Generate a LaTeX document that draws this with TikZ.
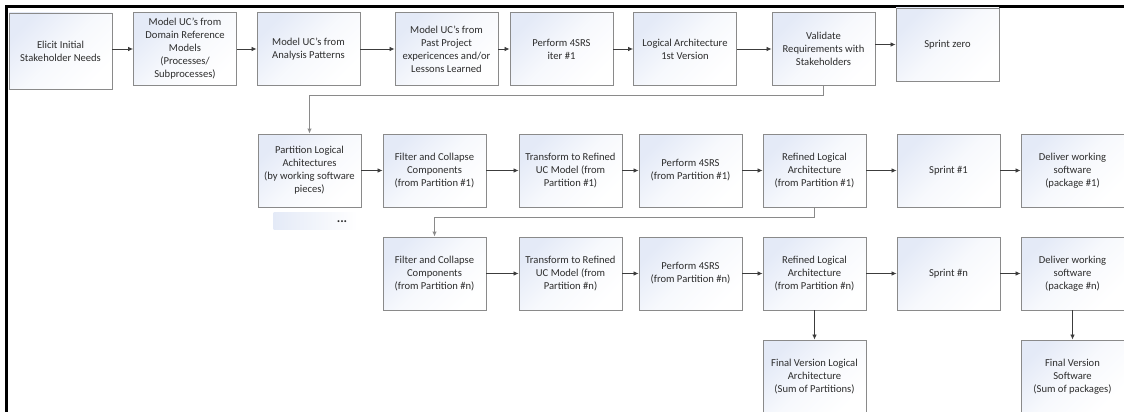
\documentclass[tikz,border=0pt]{standalone}
\usepackage{fontspec}
\setmainfont{Carlito}
\usetikzlibrary{arrows.meta}
\definecolor{boxblue}{RGB}{228,234,247}
\definecolor{boxline}{RGB}{138,138,138}
\definecolor{txt}{RGB}{45,45,45}
\definecolor{wire}{RGB}{60,60,60}
\begin{document}
\begin{tikzpicture}[x=1pt,y=-1pt,
  proc/.style={draw=boxline, line width=0.9pt, top color=boxblue, bottom color=white,
    middle color=boxblue!30, shading angle=45, minimum width=103pt, minimum height=73pt,
    inner sep=0pt, align=center, text=txt, font=\fontsize{10.6}{13}\selectfont},
  flow/.style={draw=wire, line width=0.8pt, -{Latex[length=5pt,width=4.5pt]}},
  link/.style={draw=boxline, line width=1pt, -{Latex[length=5pt,width=4.5pt]}}]
\useasboundingbox (0,0) rectangle (1124,412);
\clip (0,0) rectangle (1124,412);
\fill[white] (0,0) rectangle (1124,412);

% frame
\draw[line width=2.4pt, black] (6.5,420) -- (6.5,6.5) -- (1130,6.5);

% first row: requirements phase
\node[proc, minimum height=76pt] (elicit) at (60.5,51) {Elicit Initial\\Stakeholder Needs};
\node[proc] (domain) at (185,49) {Model UC’s from\\Domain Reference\\Models\\(Processes/\\Subprocesses)};
\node[proc] (analysis) at (308.5,49) {Model UC’s from\\Analysis Patterns};
\node[proc] (past) at (446.5,49) {Model UC’s from\\Past Project\\expericences and/or\\Lessons Learned};
\node[proc] (iter) at (561.5,49) {Perform 4SRS\\iter \#1};
\node[proc] (logic) at (685,49) {Logical Architecture\\1st Version};
\node[proc] (validate) at (823.5,49) {Validate\\Requirements with\\Stakeholders};
\node[proc] (szero) at (947.5,44.5) {Sprint zero};

\draw[flow] (elicit.east |- domain.west) -- (domain.west);
\draw[flow] (domain) -- (analysis);
\draw[flow] (analysis) -- (past);
\draw[flow] (past) -- (iter);
\draw[flow] (iter) -- (logic);
\draw[flow] (logic) -- (validate);
\draw[flow] (validate.east |- szero.west) -- (szero.west);

% second row: partition #1
\node[proc] (part) at (309.5,170.5) {Partition Logical\\Achitectures\\(by working software\\pieces)};
\node[proc] (filt1) at (434.5,170.5) {Filter and Collapse\\Components\\(from Partition \#1)};
\node[proc] (trans1) at (570.5,170.5) {Transform to Refined\\UC Model (from\\Partition \#1)};
\node[proc] (perf1) at (690.5,170.5) {Perform 4SRS\\(from Partition \#1)};
\node[proc] (ref1) at (814.5,170.5) {Refined Logical\\Architecture\\(from Partition \#1)};
\node[proc] (spr1) at (948.5,170.5) {Sprint \#1};
\node[proc] (del1) at (1072.5,170.5) {Deliver working\\software\\(package \#1)};

\draw[link] (validate.south) -- ++(0,10) -| (part.north);
\draw[flow] (part) -- (filt1);
\draw[flow] (filt1) -- (trans1);
\draw[flow] (trans1) -- (perf1);
\draw[flow] (perf1) -- (ref1);
\draw[flow] (ref1) -- (spr1);
\draw[flow] (spr1) -- (del1);

% further partitions
\node[minimum width=84pt, minimum height=17pt, inner sep=0pt,
  left color=boxblue, right color=white] (more) at (315.5,220.5) {};
\node[text=txt, inner sep=0pt, font=\fontsize{13}{13}\selectfont\bfseries] (dots) at (342,222) {...};

% third row: partition #n
\node[proc] (filtn) at (434.5,273.5) {Filter and Collapse\\Components\\(from Partition \#n)};
\node[proc] (transn) at (570.5,273.5) {Transform to Refined\\UC Model (from\\Partition \#n)};
\node[proc] (perfn) at (690.5,273.5) {Perform 4SRS\\(from Partition \#n)};
\node[proc] (refn) at (814.5,273.5) {Refined Logical\\Architecture\\(from Partition \#n)};
\node[proc] (sprn) at (948.5,273.5) {Sprint \#n};
\node[proc] (deln) at (1072.5,273.5) {Deliver working\\software\\(package \#n)};

\draw[link] (ref1.south) -- ++(0,10) -| (filtn.north);
\draw[flow] (filtn) -- (transn);
\draw[flow] (transn) -- (perfn);
\draw[flow] (perfn) -- (refn);
\draw[flow] (refn) -- (sprn);
\draw[flow] (sprn) -- (deln);

% final results
\node[proc] (finla) at (814.5,376.5) {Final Version Logical\\Architecture\\(Sum of Partitions)};
\node[proc] (finsw) at (1072.5,376.5) {Final Version\\Software\\(Sum of packages)};
\draw[flow] (refn) -- (finla);
\draw[flow] (deln) -- (finsw);
\end{tikzpicture}
\end{document}
